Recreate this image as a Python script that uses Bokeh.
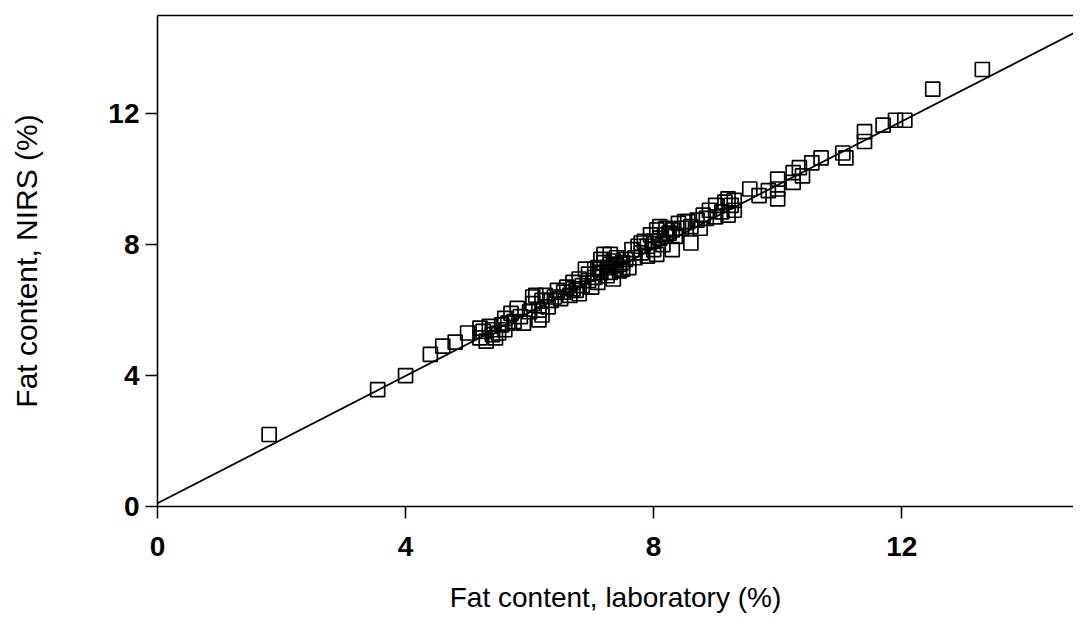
from bokeh.plotting import figure
from bokeh.models import Range1d, LinearAxis, FixedTicker
from bokeh.embed import file_html
from bokeh.resources import INLINE

# Data
lab = [1.8, 3.55, 4.0, 4.4, 4.6, 4.8, 5.0,
       5.2, 5.2, 5.25, 5.3, 5.35, 5.4, 5.4, 5.45,
       5.55, 5.6, 5.6, 5.65, 5.7, 5.75, 5.8, 5.85, 5.9,
       6.0, 6.05, 6.1, 6.15, 6.15, 6.2, 6.2, 6.25, 6.3,
       6.4, 6.45, 6.5, 6.55, 6.6, 6.65, 6.7, 6.75, 6.8, 6.8, 6.85, 6.9, 6.95,
       7.0, 7.05, 7.1, 7.1, 7.15, 7.2, 7.2, 7.25, 7.25, 7.3, 7.3, 7.35, 7.35,
       7.4, 7.4, 7.45, 7.5, 7.5, 7.55,
       7.65, 7.7, 7.75, 7.8, 7.85, 7.9, 7.9, 7.95, 8.0, 8.0, 8.05, 8.05, 8.1,
       8.15, 8.2, 8.2,
       8.3, 8.3, 8.35, 8.4, 8.45, 8.5, 8.6, 8.6, 8.7, 8.75, 8.8, 8.85, 8.9,
       9.0, 9.0,
       9.1, 9.2, 9.2, 9.25, 9.3, 9.3, 9.55, 9.7, 9.85, 10.0, 10.0, 10.0,
       10.25, 10.25, 10.35, 10.4, 10.55, 10.7, 11.05, 11.1, 11.4, 11.4, 11.7,
       11.9, 12.05, 12.5, 13.3,
       7.15, 7.05, 6.95, 7.45, 7.6, 8.1, 8.25, 5.5, 6.05, 6.7, 7.3, 7.8, 8.55,
       9.15, 6.35]
nirs = [2.2, 3.57, 4.0, 4.65, 4.9, 5.02, 5.3,
        5.45, 5.15, 5.35, 5.05, 5.5, 5.25, 5.4, 5.15,
        5.55, 5.75, 5.4, 5.6, 5.9, 5.65, 6.05, 5.8, 5.6,
        5.95, 6.2, 6.45, 5.7, 6.0, 6.3, 5.85, 6.45, 6.1,
        6.4, 6.6, 6.35, 6.55, 6.7, 6.45, 6.85, 6.6, 6.95, 6.5, 6.75, 7.25, 6.9,
        6.7, 7.0, 7.3, 6.85, 7.15, 7.7, 7.45, 7.05, 7.3, 7.7, 7.15, 7.5, 6.95,
        7.35, 7.6, 7.2, 7.45, 7.25, 7.55,
        7.85, 7.6, 7.95, 7.75, 8.1, 7.65, 7.95, 8.3, 7.85, 8.1, 8.45, 7.7, 8.2,
        8.0, 8.5, 8.3,
        7.85, 8.45, 8.25, 8.65, 8.5, 8.7, 8.05, 8.55, 8.75, 8.5, 8.9, 8.8, 9.05,
        8.85, 9.2,
        9.0, 9.4, 8.9, 9.2, 9.35, 9.05, 9.7, 9.5, 9.65, 10.0, 9.7, 9.4,
        10.2, 9.9, 10.35, 10.1, 10.5, 10.65, 10.8, 10.65, 11.45, 11.15, 11.65,
        11.8, 11.8, 12.75, 13.35,
        7.55, 7.25, 7.1, 7.4, 7.3, 8.55, 8.35, 5.3, 6.4, 6.65, 7.4, 8.05, 8.7,
        9.3, 6.3]

fit_x = [0.0, 14.77]
fit_y = [0.1, 14.46]

ticks = [0, 4, 8, 12]

p = figure(width=1073, height=616, output_backend="svg", toolbar_location=None,
           x_range=Range1d(0, 14.77), y_range=Range1d(0, 15),
           min_border_left=157, min_border_right=0, min_border_top=15,
           min_border_bottom=110, x_axis_label="Fat content, laboratory (%)",
           y_axis_label="Fat content, NIRS (%)")
p.outline_line_color = None
p.grid.visible = False
p.background_fill_color = "white"
p.border_fill_color = "white"

p.line(fit_x, fit_y, line_color="black", line_width=1.8)
p.scatter(lab, nirs, marker="square", size=14, fill_color=None,
          line_color="black", line_width=1.7)

for ax in (p.xaxis[0], p.yaxis[0]):
    ax.ticker = FixedTicker(ticks=ticks)
    ax.minor_tick_line_color = None
    ax.major_tick_in = 0
    ax.major_tick_out = 12
    ax.axis_line_width = 1.6
    ax.major_tick_line_width = 1.6
    ax.axis_line_color = "black"
    ax.major_tick_line_color = "black"
    ax.major_label_text_font = "Liberation Sans"
    ax.major_label_text_font_style = "bold"
    ax.major_label_text_font_size = "28px"
    ax.major_label_text_color = "black"
    ax.axis_label_text_font = "Liberation Sans"
    ax.axis_label_text_font_style = "normal"
    ax.axis_label_text_color = "black"

p.xaxis[0].axis_label_text_font_size = "28px"
p.yaxis[0].axis_label_text_font_size = "30px"
p.xaxis[0].major_label_standoff = 18
p.xaxis[0].axis_label_standoff = 23
p.yaxis[0].major_label_standoff = 6
p.yaxis[0].axis_label_standoff = 62

top = LinearAxis(ticker=FixedTicker(ticks=[]), major_label_text_font_size="0px",
                 major_tick_line_color=None, minor_tick_line_color=None,
                 axis_line_width=1.5, axis_line_color="black")
p.add_layout(top, "above")

open("out.html", "w").write(file_html(p, INLINE))
